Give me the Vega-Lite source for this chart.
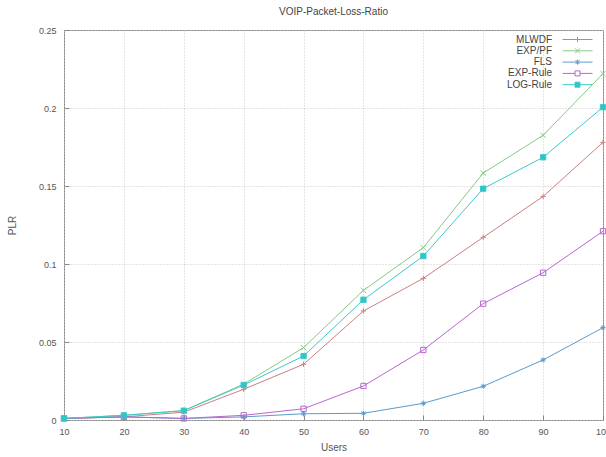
{
  "$schema": "https://vega.github.io/schema/vega-lite/v6.json",
  "width": 539,
  "height": 390,
  "autosize": "none",
  "padding": {"left": 64, "top": 30, "right": 3, "bottom": 37},
  "background": "white",
  "title": {
    "text": "VOIP-Packet-Loss-Ratio",
    "font": "Liberation Sans",
    "fontSize": 10,
    "fontWeight": "normal",
    "color": "#444",
    "offset": 9
  },
  "config": {
    "view": {"stroke": "#888", "strokeWidth": 1},
    "axis": {
      "labelFont": "Liberation Sans",
      "labelFontSize": 9,
      "labelColor": "#555",
      "labelFlush": false,
      "labelOverlap": false,
      "titleFont": "Liberation Sans",
      "titleFontSize": 10,
      "titleFontWeight": "normal",
      "titleColor": "#555",
      "domain": false,
      "tickColor": "#888",
      "tickSize": -5,
      "gridColor": "#c8c8c8",
      "gridDash": [1, 2],
      "gridWidth": 1
    },
    "legend": {
      "labelFont": "Liberation Sans",
      "labelFontSize": 10,
      "labelColor": "#444"
    }
  },
  "datasets": {
    "plr": [
      {"users": 10, "scheme": "MLWDF", "plr": 0.001},
      {"users": 20, "scheme": "MLWDF", "plr": 0.002},
      {"users": 30, "scheme": "MLWDF", "plr": 0.005},
      {"users": 40, "scheme": "MLWDF", "plr": 0.0197},
      {"users": 50, "scheme": "MLWDF", "plr": 0.0357},
      {"users": 60, "scheme": "MLWDF", "plr": 0.0699},
      {"users": 70, "scheme": "MLWDF", "plr": 0.0908},
      {"users": 80, "scheme": "MLWDF", "plr": 0.1171},
      {"users": 90, "scheme": "MLWDF", "plr": 0.1433},
      {"users": 100, "scheme": "MLWDF", "plr": 0.178},
      {"users": 10, "scheme": "EXP/PF", "plr": 0.001},
      {"users": 20, "scheme": "EXP/PF", "plr": 0.003},
      {"users": 30, "scheme": "EXP/PF", "plr": 0.006},
      {"users": 40, "scheme": "EXP/PF", "plr": 0.023},
      {"users": 50, "scheme": "EXP/PF", "plr": 0.0464},
      {"users": 60, "scheme": "EXP/PF", "plr": 0.0831},
      {"users": 70, "scheme": "EXP/PF", "plr": 0.1105},
      {"users": 80, "scheme": "EXP/PF", "plr": 0.1583},
      {"users": 90, "scheme": "EXP/PF", "plr": 0.1825},
      {"users": 100, "scheme": "EXP/PF", "plr": 0.222},
      {"users": 10, "scheme": "FLS", "plr": 0.001},
      {"users": 20, "scheme": "FLS", "plr": 0.002},
      {"users": 30, "scheme": "FLS", "plr": 0.001},
      {"users": 40, "scheme": "FLS", "plr": 0.002},
      {"users": 50, "scheme": "FLS", "plr": 0.004},
      {"users": 60, "scheme": "FLS", "plr": 0.0043},
      {"users": 70, "scheme": "FLS", "plr": 0.0107},
      {"users": 80, "scheme": "FLS", "plr": 0.0216},
      {"users": 90, "scheme": "FLS", "plr": 0.0385},
      {"users": 100, "scheme": "FLS", "plr": 0.0592},
      {"users": 10, "scheme": "EXP-Rule", "plr": 0.001},
      {"users": 20, "scheme": "EXP-Rule", "plr": 0.002},
      {"users": 30, "scheme": "EXP-Rule", "plr": 0.001},
      {"users": 40, "scheme": "EXP-Rule", "plr": 0.003},
      {"users": 50, "scheme": "EXP-Rule", "plr": 0.0072},
      {"users": 60, "scheme": "EXP-Rule", "plr": 0.0218},
      {"users": 70, "scheme": "EXP-Rule", "plr": 0.0449},
      {"users": 80, "scheme": "EXP-Rule", "plr": 0.0746},
      {"users": 90, "scheme": "EXP-Rule", "plr": 0.0944},
      {"users": 100, "scheme": "EXP-Rule", "plr": 0.121},
      {"users": 10, "scheme": "LOG-Rule", "plr": 0.001},
      {"users": 20, "scheme": "LOG-Rule", "plr": 0.003},
      {"users": 30, "scheme": "LOG-Rule", "plr": 0.006},
      {"users": 40, "scheme": "LOG-Rule", "plr": 0.0224},
      {"users": 50, "scheme": "LOG-Rule", "plr": 0.041},
      {"users": 60, "scheme": "LOG-Rule", "plr": 0.0771},
      {"users": 70, "scheme": "LOG-Rule", "plr": 0.1051},
      {"users": 80, "scheme": "LOG-Rule", "plr": 0.1483},
      {"users": 90, "scheme": "LOG-Rule", "plr": 0.1684},
      {"users": 100, "scheme": "LOG-Rule", "plr": 0.2005}
    ]
  },
  "data": {"name": "plr"},
  "encoding": {
    "x": {
      "field": "users",
      "type": "quantitative",
      "scale": {"domain": [10, 100], "nice": false, "zero": false},
      "axis": {
        "title": "Users",
        "values": [10, 20, 30, 40, 50, 60, 70, 80, 90, 100],
        "labelPadding": 12,
        "titleY": 22
      }
    },
    "y": {
      "field": "plr",
      "type": "quantitative",
      "scale": {"domain": [0, 0.25], "nice": false},
      "axis": {
        "title": "PLR",
        "values": [0, 0.05, 0.1, 0.15, 0.2, 0.25],
        "labelExpr": "datum.value == 0 ? '0' : format(datum.value, '~g')",
        "labelPadding": 13,
        "titleX": -47,
        "titleY": 195
      }
    },
    "stroke": {
      "field": "scheme",
      "type": "nominal",
      "sort": ["MLWDF", "EXP/PF", "FLS", "EXP-Rule", "LOG-Rule"],
      "scale": {
        "domain": ["MLWDF", "EXP/PF", "FLS", "EXP-Rule", "LOG-Rule"],
        "range": ["#cc7f7f", "#86c986", "#5a9bcc", "#b866d0", "#3cc9cc"]
      },
      "legend": {
        "title": null,
        "orient": "none",
        "legendX": 508,
        "legendY": 4,
        "symbolType": "M-3,0H3",
        "symbolSize": 100,
        "symbolStrokeWidth": 1,
        "labelAlign": "right",
        "labelOffset": -31,
        "rowPadding": 0.3,
        "encode": {
          "symbols": {
            "update": {
              "shape": {
                "signal": "datum.value == 'MLWDF' ? 'M-3,0H3M0,-0.5V0.5' : datum.value == 'EXP/PF' ? 'M-3,0H3M-0.5,-0.5L0.5,0.5M-0.5,0.5L0.5,-0.5' : datum.value == 'FLS' ? 'M-3,0H3M0,-0.5V0.5M-0.4,-0.4L0.4,0.4M-0.4,0.4L0.4,-0.4' : datum.value == 'EXP-Rule' ? 'M-3,0H-0.5M0.5,0H3M-0.5,-0.5H0.5V0.5H-0.5Z' : 'M-3,0H3M-0.5,-0.5H0.5V0.5H-0.5Z'"
              },
              "fill": {
                "signal": "datum.value == 'LOG-Rule' ? '#2cc6c8' : 'transparent'"
              }
            }
          }
        }
      }
    }
  },
  "layer": [
    {
      "mark": {"type": "line", "strokeWidth": 1}
    },
    {
      "mark": {"type": "point", "strokeWidth": 1, "opacity": 1, "filled": false, "size": 28},
      "encoding": {
        "shape": {
          "condition": [
            {"test": "datum.scheme == 'MLWDF'", "value": "M-1,0H1M0,-1V1"},
            {"test": "datum.scheme == 'EXP/PF'", "value": "M-1,-1L1,1M-1,1L1,-1"},
            {"test": "datum.scheme == 'FLS'", "value": "M-1,0H1M0,-1V1M-0.7,-0.7L0.7,0.7M-0.7,0.7L0.7,-0.7"}
          ],
          "value": "square"
        },
        "fill": {
          "condition": {"test": "datum.scheme == 'LOG-Rule'", "value": "#2cc6c8"},
          "value": "transparent"
        }
      }
    }
  ]
}
